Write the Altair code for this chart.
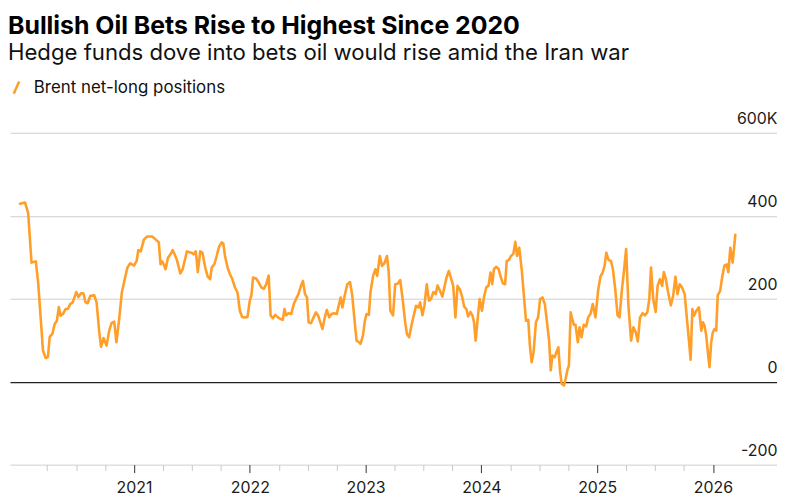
import altair as alt
import pandas as pd

SERIES = "Brent net-long positions"

# decimal year of each weekly reading
years = [
    2020.015, 2020.058, 2020.086, 2020.115, 2020.152, 2020.172, 2020.201, 2020.214, 2020.237, 2020.257,
    2020.272, 2020.295, 2020.315, 2020.334, 2020.351, 2020.366, 2020.386, 2020.409, 2020.429, 2020.449,
    2020.471, 2020.501, 2020.520, 2020.543, 2020.563, 2020.580, 2020.600, 2020.623, 2020.657, 2020.677,
    2020.700, 2020.715, 2020.737, 2020.763, 2020.786, 2020.806, 2020.829, 2020.848, 2020.872, 2020.895,
    2020.923, 2020.943, 2020.966, 2021.000, 2021.023, 2021.037, 2021.058, 2021.086, 2021.114, 2021.157,
    2021.186, 2021.214, 2021.229, 2021.243, 2021.257, 2021.272, 2021.294, 2021.315, 2021.334, 2021.351,
    2021.371, 2021.400, 2021.420, 2021.457, 2021.495, 2021.514, 2021.534, 2021.551, 2021.572, 2021.591,
    2021.615, 2021.637, 2021.657, 2021.671, 2021.694, 2021.714, 2021.734, 2021.757, 2021.771, 2021.786,
    2021.808, 2021.829, 2021.848, 2021.872, 2021.894, 2021.914, 2021.934, 2021.957, 2021.980, 2022.000,
    2022.014, 2022.028, 2022.057, 2022.077, 2022.100, 2022.123, 2022.142, 2022.163, 2022.180, 2022.200,
    2022.219, 2022.243, 2022.266, 2022.285, 2022.300, 2022.314, 2022.334, 2022.357, 2022.380, 2022.399,
    2022.420, 2022.442, 2022.459, 2022.477, 2022.494, 2022.508, 2022.528, 2022.551, 2022.571, 2022.591,
    2022.609, 2022.628, 2022.648, 2022.665, 2022.686, 2022.705, 2022.729, 2022.751, 2022.771, 2022.785,
    2022.800, 2022.819, 2022.842, 2022.866, 2022.885, 2022.905, 2022.922, 2022.943, 2022.956, 2022.977,
    2022.994, 2023.008, 2023.028, 2023.042, 2023.065, 2023.085, 2023.100, 2023.123, 2023.142, 2023.162,
    2023.185, 2023.200, 2023.214, 2023.237, 2023.256, 2023.277, 2023.299, 2023.320, 2023.342, 2023.357,
    2023.376, 2023.399, 2023.419, 2023.436, 2023.457, 2023.471, 2023.491, 2023.508, 2023.528, 2023.548,
    2023.565, 2023.585, 2023.605, 2023.622, 2023.642, 2023.663, 2023.680, 2023.699, 2023.719, 2023.736,
    2023.757, 2023.776, 2023.794, 2023.813, 2023.834, 2023.851, 2023.871, 2023.885, 2023.905, 2023.922,
    2023.937, 2023.950, 2023.965, 2023.985, 2024.005, 2024.022, 2024.042, 2024.062, 2024.079, 2024.094,
    2024.108, 2024.128, 2024.148, 2024.165, 2024.185, 2024.205, 2024.219, 2024.237, 2024.256, 2024.276,
    2024.293, 2024.308, 2024.327, 2024.348, 2024.365, 2024.385, 2024.405, 2024.419, 2024.434, 2024.451,
    2024.471, 2024.490, 2024.507, 2024.528, 2024.548, 2024.565, 2024.585, 2024.599, 2024.614, 2024.633,
    2024.648, 2024.665, 2024.679, 2024.693, 2024.713, 2024.728, 2024.742, 2024.756, 2024.771, 2024.785,
    2024.799, 2024.813, 2024.833, 2024.848, 2024.865, 2024.884, 2024.905, 2024.922, 2024.942, 2024.962,
    2024.985, 2025.008, 2025.028, 2025.047, 2025.064, 2025.079, 2025.099, 2025.119, 2025.136, 2025.156,
    2025.176, 2025.193, 2025.214, 2025.233, 2025.250, 2025.270, 2025.293, 2025.313, 2025.333, 2025.351,
    2025.370, 2025.393, 2025.413, 2025.433, 2025.450, 2025.465, 2025.484, 2025.505, 2025.522, 2025.542,
    2025.561, 2025.576, 2025.593, 2025.613, 2025.636, 2025.656, 2025.676, 2025.693, 2025.713, 2025.733,
    2025.756, 2025.770, 2025.790, 2025.807, 2025.822, 2025.836, 2025.856, 2025.879, 2025.899, 2025.913,
    2025.927, 2025.942, 2025.956, 2025.970, 2025.985, 2025.999, 2026.013, 2026.028, 2026.041, 2026.062,
    2026.079, 2026.099, 2026.119, 2026.133, 2026.150, 2026.170, 2026.193,
]

# Brent net-long positions, thousands of contracts
net_long = [
    429, 432, 407, 287, 290, 240, 127, 75, 57, 60,
    108, 115, 139, 147, 180, 159, 163, 175, 175, 187,
    191, 216, 204, 213, 213, 192, 189, 207, 208, 191,
    120, 84, 105, 87, 123, 141, 145, 95, 151, 215,
    251, 275, 285, 280, 291, 317, 314, 343, 350, 350,
    343, 336, 283, 290, 283, 271, 299, 307, 317, 307,
    293, 261, 271, 314, 311, 307, 314, 264, 314, 311,
    275, 253, 247, 275, 283, 303, 325, 336, 333, 303,
    275, 259, 248, 227, 215, 171, 156, 155, 156, 195,
    208, 251, 248, 239, 227, 224, 235, 256, 159, 153,
    161, 155, 151, 149, 175, 160, 165, 163, 187, 199,
    211, 231, 243, 211, 203, 143, 141, 155, 167, 159,
    143, 127, 155, 173, 155, 163, 165, 163, 187, 203,
    179, 207, 235, 240, 207, 147, 99, 95, 91, 111,
    147, 163, 161, 215, 255, 271, 255, 303, 279, 285,
    303, 263, 171, 160, 235, 236, 245, 199, 143, 115,
    107, 139, 163, 183, 179, 191, 160, 183, 235, 195,
    199, 216, 211, 232, 219, 205, 227, 251, 267, 251,
    231, 155, 231, 223, 205, 181, 175, 157, 168, 160,
    143, 99, 143, 199, 171, 203, 227, 232, 263, 235,
    271, 277, 272, 255, 237, 235, 291, 293, 303, 308,
    337, 303, 323, 271, 215, 147, 149, 87, 47, 71,
    143, 155, 199, 203, 187, 147, 99, 27, 63, 59,
    71, 83, 27, -5, -9, 7, 27, 39, 167, 151,
    137, 137, 95, 131, 107, 137, 133, 155, 163, 187,
    155, 219, 253, 263, 279, 311, 293, 291, 271, 223,
    160, 155, 223, 271, 320, 183, 99, 131, 119, 97,
    155, 165, 160, 167, 199, 275, 199, 168, 231, 247,
    231, 264, 247, 215, 184, 207, 253, 211, 235, 227,
    211, 167, 107, 53, 175, 159, 171, 179, 123, 143,
    135, 111, 71, 35, 95, 119, 127, 123, 208, 219,
    251, 280, 283, 264, 323, 287, 354,
]

x_ticks = [2020.25, 2020.5, 2020.75, 2021.0, 2021.25, 2021.5, 2021.75, 2022.0, 2022.25, 2022.5,
           2022.75, 2023.0, 2023.25, 2023.5, 2023.75, 2024.0, 2024.25, 2024.5, 2024.75, 2025.0,
           2025.25, 2025.5, 2025.75, 2026.0]
y_ticks = [-200, 0, 200, 400, 600]
x_domain = [2019.929, 2026.553]
y_domain = [-200, 600]

df = pd.DataFrame({"year": years, "net_long": net_long, "series": SERIES})

FONT = "Inter"

chart = alt.Chart(df).mark_line(strokeWidth=2.6, strokeJoin="round", strokeCap="round").encode(
    x=alt.X(
        "year:Q",
        scale=alt.Scale(domain=x_domain, nice=False, zero=False),
        axis=alt.Axis(
            values=x_ticks,
            title=None,
            grid=False,
            domain=False,
            labelExpr="datum.value % 1 === 0 ? toString(datum.value) : ''",
            labelOverlap=False,
            labelFont=FONT,
            labelFontSize=16,
            labelColor="#1a1a1a",
            labelPadding=7,
            tickSize={"condition": {"test": "datum.value % 1 === 0", "value": 8}, "value": 6},
            tickColor={"condition": {"test": "datum.value % 1 === 0", "value": "#333333"}, "value": "#c8c8c8"},
            tickWidth=1,
        ),
    ),
    y=alt.Y(
        "net_long:Q",
        scale=alt.Scale(domain=y_domain, nice=False, zero=False),
        axis=alt.Axis(
            values=y_ticks,
            orient="right",
            title=None,
            domain=False,
            ticks=False,
            labelAlign="right",
            labelBaseline="alphabetic",
            labelOffset=-9,
            labelPadding=0,
            labelFont=FONT,
            labelFontSize=16,
            labelColor="#1a1a1a",
            labelExpr="datum.value === 600 ? '600K' : toString(datum.value)",
            gridColor={"condition": {"test": "datum.value === 0", "value": "#222222"}, "value": "#cfcfcf"},
            gridWidth={"condition": {"test": "datum.value === 0", "value": 1.4}, "value": 1},
        ),
    ),
    color=alt.Color(
        "series:N",
        scale=alt.Scale(domain=[SERIES], range=["#ff9f2a"]),
        legend=alt.Legend(
            title=None,
            orient="none",
            legendX=-2,
            legendY=-54,
            symbolType="M-0.45,1L0.45,-1",
            symbolSize=150,
            symbolStrokeWidth=2.6,
            labelFont=FONT,
            labelFontSize=17,
            labelColor="#111111",
            labelOffset=9,
            labelLimit=0,
            padding=0,
        ),
    ),
).properties(
    width=772,
    height=334,
    padding={"left": 0, "top": 4, "right": 0, "bottom": 0},
    title=alt.TitleParams(
        text="Bullish Oil Bets Rise to Highest Since 2020",
        subtitle="Hedge funds dove into bets oil would rise amid the Iran war",
        anchor="start",
        font=FONT,
        fontSize=25,
        fontWeight="bold",
        color="#000000",
        subtitleFont=FONT,
        subtitleFontSize=22.3,
        subtitleColor="#111111",
        subtitlePadding=3,
        offset=15,
    ),
).configure_view(stroke=None)

chart.save("out.html", embed_options={"renderer": "svg", "actions": False})
